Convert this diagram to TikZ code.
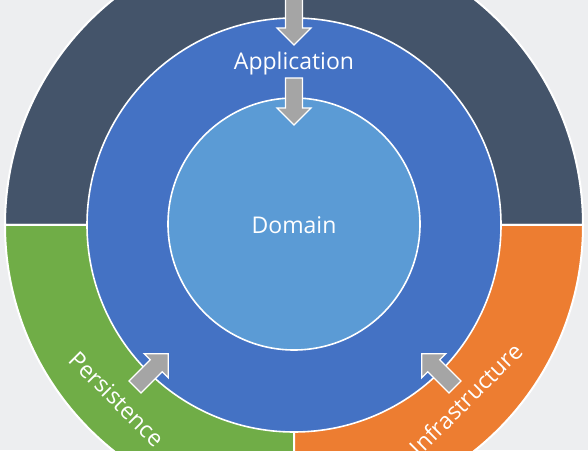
\documentclass[tikz,border=0pt]{standalone}
\usepackage{fontspec}
\setmainfont{Open Sans}
\definecolor{bgc}{HTML}{EDEEF0}
\definecolor{slate}{HTML}{44546A}
\definecolor{bluec}{HTML}{4472C4}
\definecolor{lightb}{HTML}{5B9BD5}
\definecolor{greenc}{HTML}{70AD47}
\definecolor{orangec}{HTML}{ED7D31}
\definecolor{grayc}{HTML}{A5A5A5}
\begin{document}
\begin{tikzpicture}[x=1pt,y=1pt,
  seg/.style={draw=white,line width=2pt},
  ring/.style={draw=white,line width=1.6pt},
  lbl/.style={text=white,font=\fontsize{23}{27}\selectfont,inner sep=0pt},
  blockarrow/.style={fill=grayc,draw=white,line width=1.2pt,line join=miter}]
\useasboundingbox (0,0) rectangle (588,450);
\clip (0,0) rectangle (588,450);
\fill[bgc] (0,0) rectangle (588,450);
\coordinate (c) at (294,225);
% outer ring segments
\draw[seg,fill=slate] (c) -- ++(0:289) arc[start angle=0,end angle=180,radius=289] -- cycle;
\draw[seg,fill=greenc] (c) -- ++(180:289) arc[start angle=180,end angle=270,radius=289] -- cycle;
\draw[seg,fill=orangec] (c) -- ++(270:289) arc[start angle=270,end angle=360,radius=289] -- cycle;
% application circle
\draw[ring,fill=bluec] (c) circle[radius=207];
% domain circle
\draw[ring,fill=lightb] (294,226) circle[radius=126];
% labels
\node[lbl] (app) at (294,386) {Application};
\node[lbl] (dom) at (294,225) {Domain};
\node[lbl,rotate=-45] (per) at (117,51) {Persistence};
\node[lbl,rotate=45] (inf) at (466,51) {Infrastructure};
% block arrows
\foreach \px/\py/\ang in {294/452/-90, 294/372/-90, 135/63/45, 455/63/135}{
  \draw[blockarrow,shift={(\px,\py)},rotate=\ang]
    (0,-8.5) -- (30,-8.5) -- (30,-17) -- (47,0) -- (30,17) -- (30,8.5) -- (0,8.5) -- cycle;
}
\end{tikzpicture}
\end{document}
